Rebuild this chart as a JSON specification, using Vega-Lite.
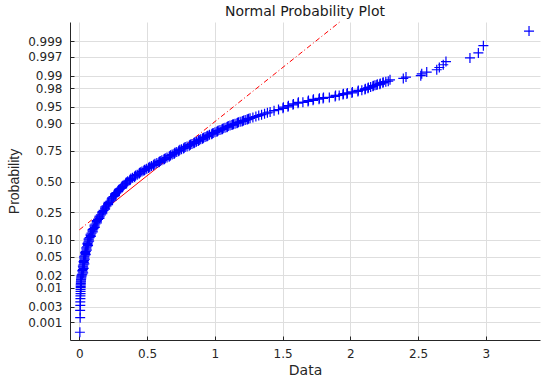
{
  "$schema": "https://vega.github.io/schema/vega-lite/v6.json",
  "width": 470,
  "height": 318,
  "autosize": {"type": "none"},
  "padding": {"left": 70, "top": 22, "right": 10, "bottom": 41},
  "background": "white",
  "title": {"text": "Normal Probability Plot", "font": "DejaVu Sans", "fontSize": 14, "fontWeight": "normal", "color": "#1a1a1a", "anchor": "middle", "offset": -10, "baseline": "alphabetic"},
  "config": {
    "view": {"stroke": null},
    "axis": {
      "grid": true, "gridColor": "#dedede", "gridWidth": 1,
      "domainColor": "#262626", "domainWidth": 1,
      "tickColor": "#262626", "tickSize": -4,
      "labelFont": "DejaVu Sans", "labelFontSize": 12, "labelColor": "#262626", "labelOverlap": false,
      "titleColor": "#262626", "titleFontWeight": "normal", "titleFontSize": 14
    }
  },
  "datasets": {
    "ref": [
      {"x": 0, "z": -1.058, "seg": "lo"},
      {"x": 0.1615, "z": -0.674, "seg": "lo"},
      {"x": 0.1615, "z": -0.674, "seg": "mid"},
      {"x": 0.7287, "z": 0.674, "seg": "mid"},
      {"x": 0.7287, "z": 0.674, "seg": "hi"},
      {"x": 1.9218, "z": 3.51, "seg": "hi"}
    ],
    "pts": [
      {"x": 0.004, "z": -3.31}, {"x": 0.006, "z": -2.99}, {"x": 0.006, "z": -2.83}, {"x": 0.007, "z": -2.72},
      {"x": 0.007, "z": -2.64}, {"x": 0.008, "z": -2.57}, {"x": 0.008, "z": -2.51}, {"x": 0.009, "z": -2.46},
      {"x": 0.009, "z": -2.41}, {"x": 0.009, "z": -2.37}, {"x": 0.010, "z": -2.33}, {"x": 0.010, "z": -2.30},
      {"x": 0.010, "z": -2.27}, {"x": 0.011, "z": -2.24}, {"x": 0.011, "z": -2.21}, {"x": 0.012, "z": -2.185},
      {"x": 0.012, "z": -2.16}, {"x": 0.013, "z": -2.14}, {"x": 0.014, "z": -2.115}, {"x": 0.015, "z": -2.09},
      {"x": 0.016, "z": -2.07}, {"x": 0.018, "z": -2.05},
      {"x": 0.022, "z": -2.03}, {"x": 0.024, "z": -1.98}, {"x": 0.026, "z": -1.93}, {"x": 0.028, "z": -1.88},
      {"x": 0.030, "z": -1.83}, {"x": 0.033, "z": -1.78}, {"x": 0.035, "z": -1.73}, {"x": 0.037, "z": -1.68},
      {"x": 0.040, "z": -1.63}, {"x": 0.044, "z": -1.58}, {"x": 0.048, "z": -1.53}, {"x": 0.052, "z": -1.48},
      {"x": 0.056, "z": -1.43}, {"x": 0.061, "z": -1.38}, {"x": 0.065, "z": -1.33}, {"x": 0.069, "z": -1.28},
      {"x": 0.076, "z": -1.23}, {"x": 0.083, "z": -1.18}, {"x": 0.090, "z": -1.13}, {"x": 0.097, "z": -1.08},
      {"x": 0.105, "z": -1.03}, {"x": 0.112, "z": -0.98}, {"x": 0.119, "z": -0.93},
      {"x": 0.128, "z": -0.88}, {"x": 0.138, "z": -0.83}, {"x": 0.148, "z": -0.78}, {"x": 0.159, "z": -0.73},
      {"x": 0.169, "z": -0.68}, {"x": 0.179, "z": -0.63}, {"x": 0.190, "z": -0.58},
      {"x": 0.201, "z": -0.53}, {"x": 0.213, "z": -0.48}, {"x": 0.226, "z": -0.43}, {"x": 0.239, "z": -0.38},
      {"x": 0.252, "z": -0.33}, {"x": 0.264, "z": -0.28}, {"x": 0.274, "z": -0.24},
      {"x": 0.290, "z": -0.19}, {"x": 0.304, "z": -0.15}, {"x": 0.317, "z": -0.11}, {"x": 0.331, "z": -0.07},
      {"x": 0.344, "z": -0.03}, {"x": 0.357, "z": 0.01},
      {"x": 0.376, "z": 0.05}, {"x": 0.393, "z": 0.085}, {"x": 0.410, "z": 0.12}, {"x": 0.427, "z": 0.155},
      {"x": 0.444, "z": 0.19},
      {"x": 0.462, "z": 0.225}, {"x": 0.480, "z": 0.255}, {"x": 0.497, "z": 0.285}, {"x": 0.515, "z": 0.315},
      {"x": 0.533, "z": 0.345}, {"x": 0.551, "z": 0.375},
      {"x": 0.572, "z": 0.41}, {"x": 0.591, "z": 0.44}, {"x": 0.609, "z": 0.47}, {"x": 0.628, "z": 0.50},
      {"x": 0.647, "z": 0.53},
      {"x": 0.668, "z": 0.565}, {"x": 0.685, "z": 0.595}, {"x": 0.702, "z": 0.625}, {"x": 0.719, "z": 0.655},
      {"x": 0.736, "z": 0.685}, {"x": 0.754, "z": 0.715},
      {"x": 0.774, "z": 0.745}, {"x": 0.795, "z": 0.775}, {"x": 0.816, "z": 0.805},
      {"x": 0.831, "z": 0.83}, {"x": 0.848, "z": 0.855}, {"x": 0.864, "z": 0.88}, {"x": 0.880, "z": 0.905},
      {"x": 0.896, "z": 0.93}, {"x": 0.912, "z": 0.955}, {"x": 0.928, "z": 0.98}, {"x": 0.944, "z": 1.005},
      {"x": 0.961, "z": 1.03},
      {"x": 0.982, "z": 1.06}, {"x": 1.001, "z": 1.085}, {"x": 1.019, "z": 1.11}, {"x": 1.038, "z": 1.135},
      {"x": 1.056, "z": 1.16}, {"x": 1.075, "z": 1.185}, {"x": 1.093, "z": 1.21}, {"x": 1.112, "z": 1.235},
      {"x": 1.131, "z": 1.255}, {"x": 1.149, "z": 1.275}, {"x": 1.168, "z": 1.295}, {"x": 1.187, "z": 1.315},
      {"x": 1.206, "z": 1.335}, {"x": 1.224, "z": 1.355}, {"x": 1.243, "z": 1.375}, {"x": 1.260, "z": 1.393},
      {"x": 1.281, "z": 1.413}, {"x": 1.303, "z": 1.433}, {"x": 1.324, "z": 1.453}, {"x": 1.345, "z": 1.473},
      {"x": 1.367, "z": 1.493}, {"x": 1.388, "z": 1.513}, {"x": 1.408, "z": 1.532},
      {"x": 1.437, "z": 1.56}, {"x": 1.470, "z": 1.585},
      {"x": 1.503, "z": 1.613}, {"x": 1.506, "z": 1.638},
      {"x": 1.540, "z": 1.646}, {"x": 1.543, "z": 1.67},
      {"x": 1.577, "z": 1.69}, {"x": 1.580, "z": 1.71},
      {"x": 1.614, "z": 1.725}, {"x": 1.617, "z": 1.745},
      {"x": 1.650, "z": 1.745},
      {"x": 1.688, "z": 1.765}, {"x": 1.691, "z": 1.785},
      {"x": 1.725, "z": 1.789}, {"x": 1.728, "z": 1.81},
      {"x": 1.769, "z": 1.813}, {"x": 1.772, "z": 1.833},
      {"x": 1.799, "z": 1.831}, {"x": 1.802, "z": 1.85},
      {"x": 1.845, "z": 1.853},
      {"x": 1.888, "z": 1.875}, {"x": 1.891, "z": 1.895},
      {"x": 1.918, "z": 1.895},
      {"x": 1.946, "z": 1.914}, {"x": 1.949, "z": 1.934},
      {"x": 1.975, "z": 1.93}, {"x": 1.978, "z": 1.95},
      {"x": 2.012, "z": 1.952}, {"x": 2.015, "z": 1.972},
      {"x": 2.056, "z": 1.985}, {"x": 2.059, "z": 2.005},
      {"x": 2.085, "z": 2.01},
      {"x": 2.108, "z": 2.029}, {"x": 2.111, "z": 2.045},
      {"x": 2.130, "z": 2.053}, {"x": 2.133, "z": 2.07},
      {"x": 2.150, "z": 2.08},
      {"x": 2.167, "z": 2.095}, {"x": 2.170, "z": 2.11},
      {"x": 2.182, "z": 2.12},
      {"x": 2.196, "z": 2.125}, {"x": 2.199, "z": 2.14},
      {"x": 2.218, "z": 2.141}, {"x": 2.221, "z": 2.16},
      {"x": 2.240, "z": 2.174}, {"x": 2.243, "z": 2.185},
      {"x": 2.262, "z": 2.198},
      {"x": 2.280, "z": 2.21}, {"x": 2.293, "z": 2.24}, {"x": 2.391, "z": 2.27}, {"x": 2.411, "z": 2.30},
      {"x": 2.520, "z": 2.33}, {"x": 2.527, "z": 2.37}, {"x": 2.564, "z": 2.41}, {"x": 2.638, "z": 2.46},
      {"x": 2.657, "z": 2.51}, {"x": 2.686, "z": 2.57}, {"x": 2.706, "z": 2.64}, {"x": 2.883, "z": 2.72},
      {"x": 2.945, "z": 2.83}, {"x": 2.982, "z": 2.99}, {"x": 3.319, "z": 3.31},
      {"x": 0.028, "z": -2.005}, {"x": 0.022, "z": -1.955}, {"x": 0.032, "z": -1.905}, {"x": 0.026, "z": -1.855},
      {"x": 0.037, "z": -1.805}, {"x": 0.031, "z": -1.755}, {"x": 0.041, "z": -1.705}, {"x": 0.035, "z": -1.655},
      {"x": 0.047, "z": -1.605}, {"x": 0.043, "z": -1.555}, {"x": 0.055, "z": -1.505}, {"x": 0.051, "z": -1.455},
      {"x": 0.064, "z": -1.405}, {"x": 0.060, "z": -1.355}, {"x": 0.072, "z": -1.305}, {"x": 0.069, "z": -1.255},
      {"x": 0.085, "z": -1.205}, {"x": 0.083, "z": -1.155}, {"x": 0.099, "z": -1.105}, {"x": 0.098, "z": -1.055},
      {"x": 0.114, "z": -1.005}, {"x": 0.112, "z": -0.955}, {"x": 0.129, "z": -0.905}, {"x": 0.130, "z": -0.855},
      {"x": 0.148, "z": -0.805}, {"x": 0.150, "z": -0.755}, {"x": 0.169, "z": -0.705}, {"x": 0.171, "z": -0.655},
      {"x": 0.190, "z": -0.605}, {"x": 0.192, "z": -0.555}, {"x": 0.212, "z": -0.505}, {"x": 0.216, "z": -0.455},
      {"x": 0.238, "z": -0.405}, {"x": 0.242, "z": -0.355}, {"x": 0.263, "z": -0.305}, {"x": 0.266, "z": -0.26},
      {"x": 0.287, "z": -0.215}, {"x": 0.294, "z": -0.17}, {"x": 0.316, "z": -0.13}, {"x": 0.321, "z": -0.09},
      {"x": 0.343, "z": -0.05}, {"x": 0.347, "z": -0.01}, {"x": 0.372, "z": 0.03}, {"x": 0.381, "z": 0.0675},
      {"x": 0.407, "z": 0.1025}, {"x": 0.415, "z": 0.1375}, {"x": 0.441, "z": 0.1725}, {"x": 0.450, "z": 0.2075},
      {"x": 0.476, "z": 0.24}, {"x": 0.485, "z": 0.27}, {"x": 0.511, "z": 0.30}, {"x": 0.521, "z": 0.33},
      {"x": 0.547, "z": 0.36}, {"x": 0.558, "z": 0.3925}, {"x": 0.587, "z": 0.425}, {"x": 0.597, "z": 0.455},
      {"x": 0.624, "z": 0.485}, {"x": 0.634, "z": 0.515}, {"x": 0.663, "z": 0.5475}, {"x": 0.673, "z": 0.58},
      {"x": 0.699, "z": 0.61}, {"x": 0.707, "z": 0.64}, {"x": 0.733, "z": 0.67}, {"x": 0.742, "z": 0.70},
      {"x": 0.769, "z": 0.73}, {"x": 0.781, "z": 0.76}, {"x": 0.811, "z": 0.79}, {"x": 0.820, "z": 0.8175},
      {"x": 0.845, "z": 0.8425}, {"x": 0.853, "z": 0.8675}, {"x": 0.877, "z": 0.8925}, {"x": 0.885, "z": 0.9175},
      {"x": 0.909, "z": 0.9425}, {"x": 0.917, "z": 0.9675}, {"x": 0.941, "z": 0.9925}, {"x": 0.950, "z": 1.0175},
      {"x": 0.977, "z": 1.045}, {"x": 0.988, "z": 1.0725}, {"x": 1.015, "z": 1.0975}, {"x": 1.025, "z": 1.1225},
      {"x": 1.052, "z": 1.1475}, {"x": 1.062, "z": 1.1725}, {"x": 1.089, "z": 1.1975}, {"x": 1.099, "z": 1.2225},
      {"x": 1.126, "z": 1.245}, {"x": 1.137, "z": 1.265}, {"x": 1.163, "z": 1.285}, {"x": 1.174, "z": 1.305},
      {"x": 1.201, "z": 1.325}, {"x": 1.212, "z": 1.345}, {"x": 1.238, "z": 1.365}, {"x": 1.249, "z": 1.384}
    ]
  },
  "encoding": {
    "x": {
      "field": "x", "type": "quantitative",
      "scale": {"domain": [-0.069, 3.4], "nice": false, "zero": false},
      "axis": {"title": "Data", "titleFont": "DejaVu Sans", "values": [0, 0.5, 1, 1.5, 2, 2.5, 3], "format": "~g", "labelPadding": 12, "titlePadding": 4}
    },
    "y": {
      "field": "z", "type": "quantitative",
      "scale": {"domain": [-3.48, 3.51], "nice": false, "zero": false},
      "axis": {
        "title": "Probability", "titleFont": "Liberation Sans", "titlePadding": 6, "labelPadding": 12,
        "values": [-3.0902, -2.7478, -2.3263, -2.0537, -1.6449, -1.2816, -0.6745, 0, 0.6745, 1.2816, 1.6449, 2.0537, 2.3263, 2.7478, 3.0902],
        "labelExpr": "datum.value < -3 ? '0.001' : datum.value < -2.5 ? '0.003' : datum.value < -2.2 ? '0.01' : datum.value < -1.9 ? '0.02' : datum.value < -1.5 ? '0.05' : datum.value < -1 ? '0.10' : datum.value < -0.5 ? '0.25' : datum.value < 0.5 ? '0.50' : datum.value < 1 ? '0.75' : datum.value < 1.5 ? '0.90' : datum.value < 1.9 ? '0.95' : datum.value < 2.2 ? '0.98' : datum.value < 2.5 ? '0.99' : datum.value < 3 ? '0.997' : '0.999'"
      }
    }
  },
  "layer": [
    {
      "data": {"name": "ref"},
      "transform": [{"filter": "datum.seg != 'mid'"}],
      "mark": {"type": "line", "color": "#ff0000", "strokeWidth": 1, "strokeDash": [5, 2.5, 1, 2.5]},
      "encoding": {"detail": {"field": "seg", "type": "nominal"}}
    },
    {
      "data": {"name": "ref"},
      "transform": [{"filter": "datum.seg == 'mid'"}],
      "mark": {"type": "line", "color": "#ff0000", "strokeWidth": 1},
      "encoding": {}
    },
    {
      "data": {"name": "pts"},
      "mark": {"type": "point", "shape": "M-1,0L1,0M0,-1L0,1", "size": 100, "filled": false, "strokeWidth": 1.2, "color": "#0000ff", "opacity": 1},
      "encoding": {}
    }
  ]
}
